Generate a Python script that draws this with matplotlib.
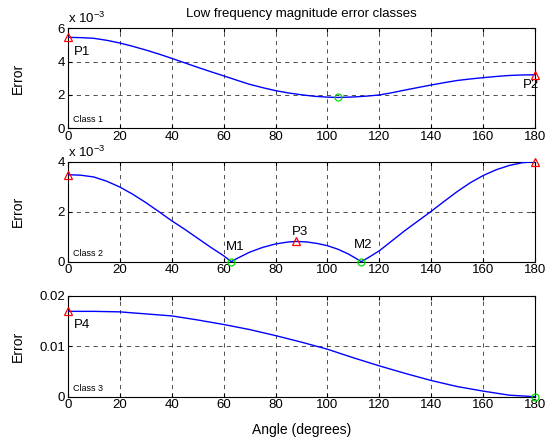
import matplotlib
matplotlib.use('Agg')
import matplotlib.pyplot as plt

plt.rcParams['font.family'] = ['Liberation Sans', 'DejaVu Sans']
plt.rcParams['font.size'] = 9

# class 1 error (x 1e-3)
ang1 = [0, 5, 10, 15, 20, 25, 30, 35, 40, 45, 50, 55, 60, 65, 70, 75, 80, 85, 90, 95,
        100, 104, 110, 115, 120, 125, 130, 135, 140, 145, 150, 155, 160, 165, 170, 175, 180]
err1 = [5.46, 5.44, 5.40, 5.28, 5.12, 4.92, 4.70, 4.46, 4.20, 3.93, 3.66, 3.40, 3.15, 2.89,
        2.64, 2.44, 2.26, 2.12, 2.01, 1.92, 1.87, 1.85, 1.88, 1.93, 2.00, 2.14, 2.30, 2.45,
        2.60, 2.74, 2.87, 2.96, 3.04, 3.11, 3.17, 3.20, 3.21]

# class 2 error (x 1e-3)
ang2 = [0, 5, 10, 15, 20, 25, 30, 35, 40, 45, 50, 55, 60, 63, 65, 70, 75, 80, 85, 88, 92,
        96, 100, 104, 108, 111, 113, 116, 120, 125, 130, 135, 140, 145, 150, 155, 160, 165,
        170, 175, 180]
err2 = [3.48, 3.46, 3.39, 3.22, 2.99, 2.70, 2.37, 2.01, 1.64, 1.30, 0.94, 0.58, 0.24, 0.0,
        0.12, 0.38, 0.57, 0.71, 0.79, 0.81, 0.79, 0.73, 0.64, 0.50, 0.31, 0.13, 0.0, 0.18,
        0.44, 0.85, 1.26, 1.64, 2.02, 2.42, 2.81, 3.16, 3.45, 3.68, 3.85, 3.96, 4.00]

# class 3 error
ang3 = [0, 10, 20, 30, 40, 50, 60, 70, 80, 90, 100, 110, 120, 130, 140, 150, 160, 170, 180]
err3 = [0.0169, 0.0169, 0.0168, 0.0164, 0.0160, 0.0152, 0.0143, 0.0133, 0.0121, 0.0108,
        0.0094, 0.0077, 0.0061, 0.0046, 0.0032, 0.0020, 0.0011, 0.0003, 0.0]

# maxima (red triangles) and minima (green circles)
peaks = [[(0, 5.46), (180, 3.21)],
         [(0, 3.48), (88, 0.81), (180, 4.0)],
         [(0, 0.0169)]]
mins = [[(104, 1.85)],
        [(63, 0.0), (113, 0.0)],
        [(180, 0.0)]]

# point labels: (x, y, text, ha)
labels = [[(2.2, 4.40, 'P1', 'left'), (178.5, 2.40, 'P2', 'center')],
          [(89.5, 1.05, 'P3', 'center'), (64.5, 0.45, 'M1', 'center'), (113.8, 0.55, 'M2', 'center')],
          [(2.2, 0.0136, 'P4', 'left')]]

fig = plt.figure(figsize=(5.52, 4.48), dpi=100)
W, H = 552.0, 448.0
x0, x1 = 67.7, 535.3
boxes = [(28.3, 128.3), (161.7, 261.7), (295.7, 396.7)]
axes = []
for top, bot in boxes:
    ax = fig.add_axes([x0 / W, 1 - bot / H, (x1 - x0) / W, (bot - top) / H])
    axes.append(ax)

data = [(ang1, err1), (ang2, err2), (ang3, err3)]
ylims = [(0, 6), (0, 4), (0, 0.02)]
yticks = [[0, 2, 4, 6], [0, 2, 4], [0, 0.01, 0.02]]
yticklabels = [['0', '2', '4', '6'], ['0', '2', '4'], ['0', '0.01', '0.02']]

for i, ax in enumerate(axes):
    a, e = data[i]
    ax.plot(a, e, color='blue', lw=1.0, zorder=3)
    for px, py in peaks[i]:
        ax.plot(px, py, '^', mfc='none', mec='red', ms=6, mew=0.9, clip_on=False, zorder=4)
    for mx, my in mins[i]:
        ax.plot(mx, my, 'o', mfc='none', mec='#00dd00', ms=5, mew=0.9, clip_on=False, zorder=4)
    for lx, ly, txt, ha in labels[i]:
        ax.text(lx, ly, txt, fontsize=9.5, ha=ha, va='baseline')
    ax.set_xlim(0, 180)
    ax.set_ylim(*ylims[i])
    ax.set_xticks(range(0, 181, 20))
    ax.set_yticks(yticks[i])
    ax.set_yticklabels(yticklabels[i])
    ax.tick_params(direction='in', top=True, right=True, length=3, labelsize=9.5, pad=2)
    ax.grid(True, color='black', ls=(0, (5, 5)), lw=0.6, alpha=0.8)
    ax.set_ylabel('Error', fontsize=10)
    ax.yaxis.set_label_coords(-0.092, 0.5)
    for s in ax.spines.values():
        s.set_linewidth(0.8)
    ax.text(0.012, 0.04, 'Class %d' % (i + 1), transform=ax.transAxes, fontsize=6.5,
            ha='left', va='bottom')
    if i < 2:
        ax.text(0.0, 1.02, r'x 10$^{\mathregular{-3}}$', transform=ax.transAxes, fontsize=9.5,
                ha='left', va='bottom')

axes[0].set_title('Low frequency magnitude error classes', fontsize=9.5, pad=8)
axes[2].set_xlabel('Angle (degrees)', fontsize=10, labelpad=8)

fig.savefig('out.png', dpi=100)
